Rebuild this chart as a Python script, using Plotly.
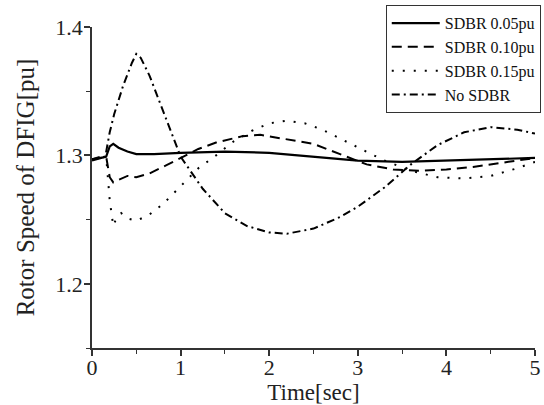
import plotly.graph_objects as go

# ---- data ----
t_005 = [0, 0.1, 0.16, 0.2, 0.24, 0.3, 0.4, 0.5, 0.7, 1.0, 1.5, 2.0, 2.5, 3.0, 3.5, 4.0, 4.5, 5.0]
v_005 = [1.296, 1.298, 1.299, 1.307, 1.309, 1.306, 1.303, 1.301, 1.301, 1.302, 1.303, 1.302, 1.299,
         1.296, 1.295, 1.296, 1.297, 1.298]

t_010 = [0, 0.1, 0.16, 0.2, 0.24, 0.3, 0.4, 0.5, 0.65, 0.83, 1.0, 1.2, 1.4, 1.7, 1.9, 2.15, 2.5,
         2.8, 3.1, 3.4, 3.7, 4.0, 4.3, 4.7, 5.0]
v_010 = [1.297, 1.298, 1.299, 1.283, 1.279, 1.281, 1.284, 1.283, 1.286, 1.292, 1.298, 1.305, 1.310,
         1.315, 1.316, 1.313, 1.309, 1.301, 1.293, 1.289, 1.288, 1.289, 1.291, 1.295, 1.298]

t_015 = [0, 0.1, 0.16, 0.2, 0.24, 0.28, 0.33, 0.4, 0.5, 0.65, 0.8, 1.0, 1.2, 1.4, 1.6, 1.8, 2.0,
         2.2, 2.4, 2.6, 2.8, 3.0, 3.3, 3.6, 3.9, 4.2, 4.5, 4.8, 5.0]
v_015 = [1.297, 1.298, 1.299, 1.265, 1.245, 1.252, 1.255, 1.251, 1.249, 1.254, 1.262, 1.276, 1.290,
         1.300, 1.311, 1.319, 1.325, 1.327, 1.325, 1.320, 1.313, 1.306, 1.296, 1.288, 1.283, 1.282,
         1.284, 1.290, 1.295]

t_none = [0, 0.1, 0.15, 0.2, 0.25, 0.3, 0.35, 0.4, 0.45, 0.5, 0.55, 0.65, 0.8, 1.0, 1.25, 1.5, 1.75,
          2.0, 2.2, 2.5, 2.8, 3.0, 3.3, 3.6, 3.9, 4.2, 4.5, 4.8, 5.0]
v_none = [1.297, 1.299, 1.299, 1.318, 1.332, 1.343, 1.354, 1.363, 1.372, 1.379, 1.376, 1.362, 1.335,
          1.299, 1.274, 1.255, 1.245, 1.240, 1.239, 1.243, 1.252, 1.260, 1.275, 1.293, 1.308, 1.318,
          1.322, 1.320, 1.317]

x_ticks = [0, 1, 2, 3, 4, 5]
y_ticks = [1.2, 1.3, 1.4]
y_tick_labels = ["1.2", "1.3", "1.4"]

FONT = "Liberation Serif"

fig = go.Figure()
fig.add_trace(go.Scatter(x=t_005, y=v_005, mode="lines", name="SDBR 0.05pu",
                         line=dict(color="black", width=2.2, dash="solid")))
fig.add_trace(go.Scatter(x=t_010, y=v_010, mode="lines", name="SDBR 0.10pu",
                         line=dict(color="black", width=2, dash="10px,6px")))
fig.add_trace(go.Scatter(x=t_015, y=v_015, mode="lines", name="SDBR 0.15pu",
                         line=dict(color="black", width=2, dash="2px,9px")))
fig.add_trace(go.Scatter(x=t_none, y=v_none, mode="lines", name="No SDBR",
                         line=dict(color="black", width=2, dash="8px,4px,2px,4px")))

axis_common = dict(showgrid=False, zeroline=False, showline=True, linecolor="#333",
                   linewidth=1.5, ticks="outside", ticklen=6, tickwidth=1.5, tickcolor="#333",
                   tickfont=dict(family=FONT, size=22, color="#222"), mirror=False)

fig.update_xaxes(range=[0, 5], tickvals=x_ticks, ticklabelstandoff=-7,
                 title=dict(text="Time[sec]", standoff=0,
                            font=dict(family=FONT, size=23, color="#222")),
                 minor=dict(dtick=0.5, ticks="outside", ticklen=4, tickcolor="#333", tickwidth=1.2),
                 **axis_common)
fig.update_yaxes(range=[1.15, 1.4], tickvals=y_ticks, ticktext=y_tick_labels, ticklabelstandoff=-3,
                 title=dict(text="Rotor Speed of DFIG[pu]", standoff=14,
                            font=dict(family=FONT, size=25, color="#222")),
                 minor=dict(tickvals=[1.15, 1.25, 1.35], ticks="outside", ticklen=4,
                            tickcolor="#333", tickwidth=1.2),
                 **axis_common)

fig.update_layout(
    width=544, height=405,
    margin=dict(l=92, r=9, t=27, b=57, autoexpand=False),
    plot_bgcolor="white", paper_bgcolor="white",
    showlegend=True,
    legend=dict(x=1.013, xanchor="right", y=1.068, yanchor="top",
                bordercolor="#333", borderwidth=1, bgcolor="white",
                font=dict(family=FONT, size=16, color="#111"),
                tracegroupgap=0, itemwidth=48),
)

fig.write_html("out.html", config={"displayModeBar": False},
               post_script="document.body.style.margin='0px';document.body.style.overflow='hidden';")
